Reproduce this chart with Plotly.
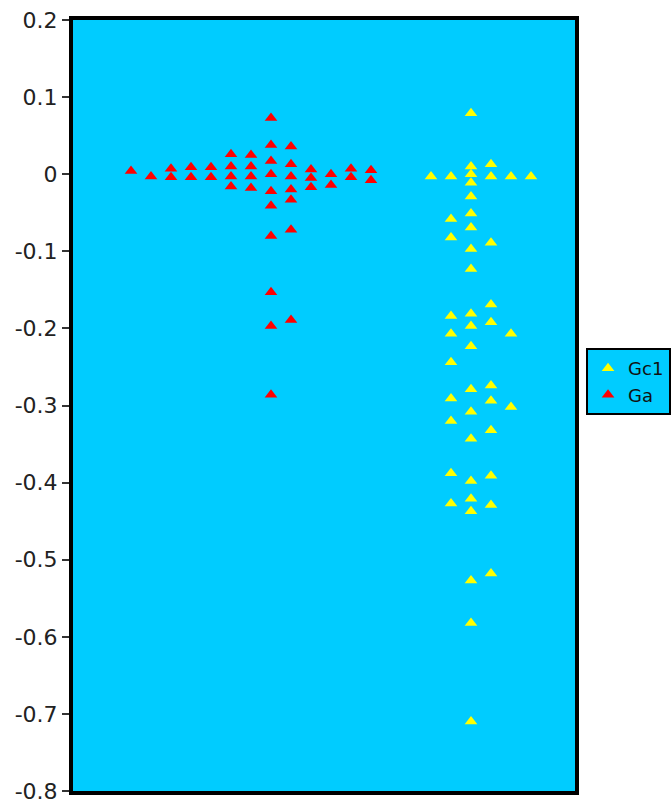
import plotly.graph_objects as go

# Column positions (categorical slots) and values
ga_cols = [0, 1, 2, 2, 3, 3, 4, 4,
           5, 5, 5, 5,
           6, 6, 6, 6,
           7, 7, 7, 7, 7, 7, 7, 7, 7, 7,
           8, 8, 8, 8, 8, 8, 8,
           9, 9, 9,
           10, 10,
           11, 11,
           12, 12]
ga_vals = [0.004, -0.003, 0.007, -0.004, 0.009, -0.004, 0.009, -0.004,
           0.026, 0.010, -0.003, -0.016,
           0.025, 0.010, -0.003, -0.018,
           0.073, 0.038, 0.017, 0.000, -0.022, -0.041, -0.080, -0.153, -0.197, -0.286,
           0.036, 0.013, -0.003, -0.020, -0.033, -0.072, -0.189,
           0.006, -0.005, -0.017,
           0.000, -0.014,
           0.007, -0.004,
           0.005, -0.008]

gc1_cols = [15,
            16, 16, 16, 16, 16, 16, 16, 16, 16, 16,
            17, 17, 17, 17, 17, 17, 17, 17, 17, 17, 17,
            17, 17, 17, 17, 17, 17, 17, 17, 17, 17,
            18, 18, 18, 18, 18, 18, 18, 18, 18, 18, 18,
            19, 19, 19,
            20]
gc1_vals = [-0.003,
            -0.003, -0.058, -0.082, -0.184, -0.207, -0.244, -0.291, -0.320, -0.388, -0.427,
            0.079, 0.010, 0.000, -0.011, -0.029, -0.051, -0.069, -0.097, -0.123, -0.181, -0.197,
            -0.223, -0.279, -0.308, -0.343, -0.398, -0.421, -0.437, -0.527, -0.582, -0.710,
            0.013, -0.003, -0.089, -0.169, -0.192, -0.274, -0.294, -0.332, -0.391, -0.429, -0.518,
            -0.003, -0.207, -0.302,
            -0.003]

y_tick_vals = [0.2, 0.1, 0, -0.1, -0.2, -0.3, -0.4, -0.5, -0.6, -0.7, -0.8]
y_tick_text = ["0.2", "0.1", "0", "-0.1", "-0.2", "-0.3", "-0.4", "-0.5", "-0.6", "-0.7", "-0.8"]

fig = go.Figure()
fig.add_trace(go.Scatter(
    x=gc1_cols, y=gc1_vals, mode="markers", name="Gc1",
    marker=dict(symbol="triangle-up", size=11, color="#FFFF00", line=dict(width=0)),
))
fig.add_trace(go.Scatter(
    x=ga_cols, y=ga_vals, mode="markers", name="Ga",
    marker=dict(symbol="triangle-up", size=11, color="#FF0000", line=dict(width=0)),
))

fig.update_layout(
    width=672, height=803,
    margin=dict(l=73, r=97, t=20, b=12, autoexpand=False),
    paper_bgcolor="white",
    plot_bgcolor="#00CCFF",
    font=dict(family="DejaVu Sans, Arial, sans-serif", color="#222222"),
    showlegend=True,
    legend=dict(
        x=1.022, y=0.531, xanchor="left", yanchor="middle",
        bgcolor="#00CCFF", bordercolor="black", borderwidth=2,
        font=dict(size=18, color="#111111"),
        traceorder="normal",
        itemwidth=30,
    ),
    xaxis=dict(
        range=[-2.9, 22.2], showticklabels=False, showgrid=False, zeroline=False,
        showline=True, mirror=True, linecolor="black", linewidth=4, ticks="",
    ),
    yaxis=dict(
        range=[-0.8, 0.2], tickvals=y_tick_vals, ticktext=y_tick_text,
        showgrid=False, zeroline=False,
        showline=True, mirror=True, linecolor="black", linewidth=4,
        ticks="outside", ticklen=7, tickwidth=2, tickcolor="#333333",
        tickfont=dict(size=22, color="#222222"),
        ticklabeloverflow="allow",
    ),
)

fig.write_html(
    "out.html",
    config={"displayModeBar": False},
    post_script="document.body.style.margin='0';document.body.style.overflow='hidden';",
)
